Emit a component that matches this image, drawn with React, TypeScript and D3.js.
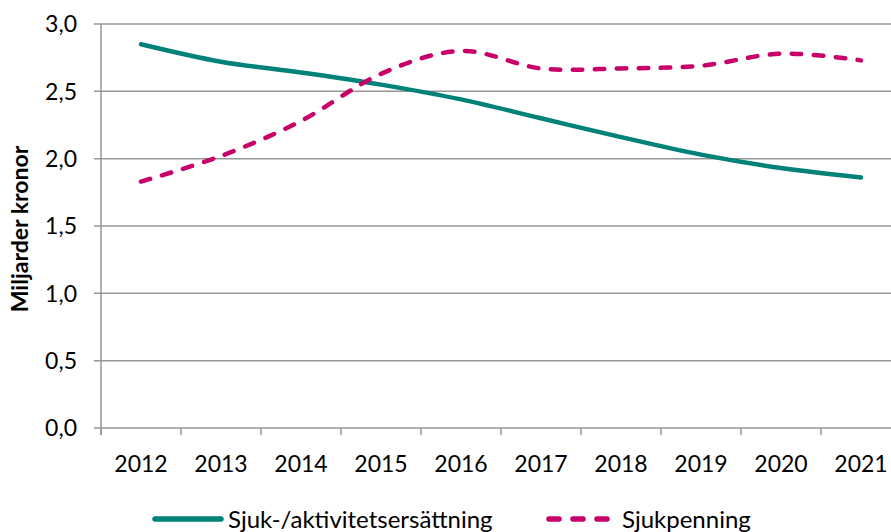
import { useEffect, useRef } from "react";
import * as d3 from "d3";

// years on the x axis
const years = ["2012", "2013", "2014", "2015", "2016", "2017", "2018", "2019", "2020", "2021"];

// miljarder kronor
const sjukAktivitet = [2.85, 2.72, 2.64, 2.55, 2.44, 2.3, 2.16, 2.03, 1.93, 1.86];
const sjukpenning = [1.83, 2.02, 2.28, 2.63, 2.8, 2.67, 2.67, 2.69, 2.78, 2.73];

const yTicks = [0, 0.5, 1, 1.5, 2, 2.5, 3];

const seriesNames = ["Sjuk-/aktivitetsersättning", "Sjukpenning"];
const colors = ["#008278", "#C8006A"];

const W = 891;
const H = 532;

export default function App() {
  const svgRef = useRef<SVGSVGElement>(null);

  useEffect(() => {
    document.body.style.margin = "0";
    const svg = d3.select(svgRef.current);
    svg.selectAll("*").remove();

    const margin = { top: 24, right: -10, bottom: 104, left: 101 };
    const innerWidth = W - margin.left - margin.right;
    const innerHeight = H - margin.top - margin.bottom;
    const font = "Lato, 'Open Sans', sans-serif";

    const g = svg.append("g").attr("transform", `translate(${margin.left},${margin.top})`);

    const x = d3.scaleBand().domain(years).range([0, innerWidth]);
    const y = d3.scaleLinear().domain([0, 3]).range([innerHeight, 0]);

    // horizontal grid
    g.append("g")
      .selectAll("line")
      .data(yTicks)
      .join("line")
      .attr("x1", -7)
      .attr("x2", W - margin.left)
      .attr("y1", (d) => y(d))
      .attr("y2", (d) => y(d))
      .attr("stroke", "#969696")
      .attr("stroke-width", 1.5);

    // y axis line
    g.append("line")
      .attr("x1", 0)
      .attr("x2", 0)
      .attr("y1", 0)
      .attr("y2", innerHeight + 7)
      .attr("stroke", "#969696")
      .attr("stroke-width", 1.5);

    // x ticks at band edges
    g.append("g")
      .selectAll("line")
      .data(years)
      .join("line")
      .attr("x1", (d) => x(d)!)
      .attr("x2", (d) => x(d)!)
      .attr("y1", innerHeight)
      .attr("y2", innerHeight + 7)
      .attr("stroke", "#969696")
      .attr("stroke-width", 1.5);

    // y labels
    g.append("g")
      .selectAll("text")
      .data(yTicks)
      .join("text")
      .attr("x", -24)
      .attr("y", (d) => y(d))
      .attr("dy", "0.36em")
      .attr("text-anchor", "end")
      .attr("font-family", font)
      .attr("font-size", 23)
      .attr("fill", "#000")
      .text((d) => d3.format(".1f")(d).replace(".", ","));

    // x labels
    g.append("g")
      .selectAll("text")
      .data(years)
      .join("text")
      .attr("x", (d) => x(d)! + x.bandwidth() / 2)
      .attr("y", innerHeight + 44)
      .attr("text-anchor", "middle")
      .attr("font-family", font)
      .attr("font-size", 23)
      .attr("fill", "#000")
      .text((d) => d);

    // axis title
    svg
      .append("text")
      .attr("transform", `translate(28,${margin.top + innerHeight / 2 + 3}) rotate(-90)`)
      .attr("text-anchor", "middle")
      .attr("font-family", font)
      .attr("font-weight", "bold")
      .attr("font-size", 23)
      .attr("fill", "#000")
      .text("Miljarder kronor");

    const line = d3
      .line<number>()
      .x((_, i) => x(years[i])! + x.bandwidth() / 2)
      .y((d) => y(d))
      .curve(d3.curveCardinal.tension(0));

    g.append("path")
      .datum(sjukAktivitet)
      .attr("fill", "none")
      .attr("stroke", colors[0])
      .attr("stroke-width", 4.5)
      .attr("stroke-linecap", "round")
      .attr("d", line);

    g.append("path")
      .datum(sjukpenning)
      .attr("fill", "none")
      .attr("stroke", colors[1])
      .attr("stroke-width", 4.5)
      .attr("stroke-linecap", "round")
      .attr("stroke-dasharray", "9.5 12.5")
      .attr("d", line);

    // legend
    const legend = svg.append("g").attr("transform", `translate(0,519)`);
    const items = [
      { x: 155, name: seriesNames[0], color: colors[0], dash: null },
      { x: 549, name: seriesNames[1], color: colors[1], dash: "10 14" },
    ];
    items.forEach((it) => {
      legend
        .append("line")
        .attr("x1", it.x)
        .attr("x2", it.x + 66)
        .attr("y1", 0)
        .attr("y2", 0)
        .attr("stroke", it.color)
        .attr("stroke-width", 5.5)
        .attr("stroke-linecap", "round")
        .attr("stroke-dasharray", it.dash);
      legend
        .append("text")
        .attr("x", it.x + 73)
        .attr("y", 0)
        .attr("dy", "0.36em")
        .attr("font-family", font)
        .attr("font-size", 24)
        .attr("fill", "#000")
        .text(it.name);
    });
  }, []);

  return <svg ref={svgRef} width={W} height={H} style={{ display: "block" }} />;
}
